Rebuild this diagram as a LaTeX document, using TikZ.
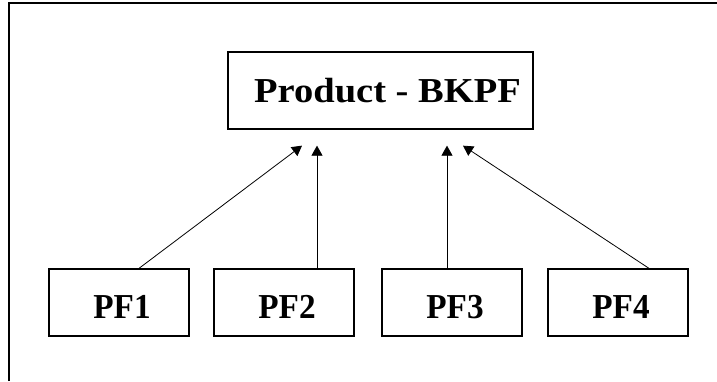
\documentclass[tikz,border=0pt]{standalone}
\usepackage{fontspec}
\setmainfont{Liberation Serif}
\usetikzlibrary{arrows.meta, calc}
\tikzset{>=stealth}

\begin{document}
\begin{tikzpicture}[x=1pt, y=-1pt,
	box/.style = {draw, line width = 1.3pt, minimum width = 140pt, minimum height = 67pt, inner sep = 0pt, text height = 24pt, text depth = 0pt, font = \fontsize{35}{38}\selectfont\bfseries},
	link/.style = {-{Triangle[length = 10pt, width = 11pt]}, line width = 0.8pt}]
	\useasboundingbox (0,0) rectangle (717,381);
	\draw [line width = 2pt] (9,381) -- (9,3) -- (717,3);
	\node [box, minimum width = 305pt, minimum height = 77pt] (prod) at (380.5,90.5) {\hspace{14pt}\scalebox{1.1}[1]{Product - BKPF}};
	\foreach \i/\x in {1/119, 2/284, 3/452, 4/618}
	\node [box] (pf\i) at (\x,302.5) {\hspace{6pt}\raisebox{-4pt}{\scalebox{0.95}[1]{PF\i}}};
	\foreach \i/\dx in {1/-78.5, 2/-63.5, 3/66.5, 4/82.5}
	\coordinate (tip\i) at ($(prod.south)+(\dx,16)$);
	\foreach \i/\dx in {1/20, 2/33, 3/-5, 4/31}
	\draw [link] ($(pf\i.north)+(\dx,0)$) -- (tip\i);
\end{tikzpicture}
\end{document}
